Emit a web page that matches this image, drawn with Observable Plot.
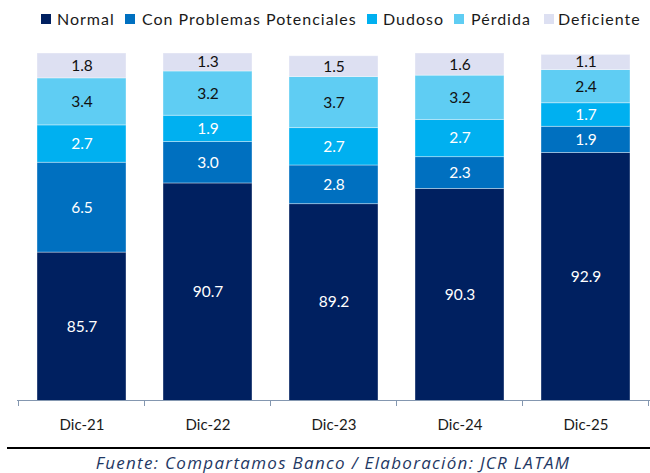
<!DOCTYPE html>
<html>
<head>
<meta charset="utf-8">
<script src="https://cdn.jsdelivr.net/npm/d3@7"></script>
<script src="https://cdn.jsdelivr.net/npm/@observablehq/plot@0.6"></script>
<style>
  body { margin: 0; background: #fff; font-family: Lato, "Liberation Sans", sans-serif; }
  #wrap { position: relative; width: 650px; height: 473px; overflow: hidden; }
  .lg-sq { position: absolute; width: 10px; height: 10px; top: 14px; }
  .lg-tx { position: absolute; top: 9px; font-size: 16px; letter-spacing: 1px; line-height: 20px; color: #1a1a1a; white-space: nowrap; }
  #chart { position: absolute; left: 0; top: 40px; }
  #rule { position: absolute; left: 7px; top: 447px; width: 643px; height: 2px; background: #000; }
  #src { position: absolute; left: 16px; top: 451px; width: 634px; text-align: center; font-family: "Open Sans", sans-serif; font-style: italic; font-size: 17px; letter-spacing: 1.3px; line-height: 24px; color: #1f3864; white-space: nowrap; }
</style>
</head>
<body>
<div id="wrap">
  <div id="legend"></div>
  <div id="chart"></div>
  <div id="rule"></div>
  <div id="src">Fuente: Compartamos Banco / Elaboración: JCR LATAM</div>
</div>
<script>
const categories = ["Dic-21", "Dic-22", "Dic-23", "Dic-24", "Dic-25"];
const series = ["Normal", "Con Problemas Potenciales", "Dudoso", "Pérdida", "Deficiente"];
const normal = [85.7, 90.7, 89.2, 90.3, 92.9];
const conProblemas = [6.5, 3.0, 2.8, 2.3, 1.9];
const dudoso = [2.7, 1.9, 2.7, 2.7, 1.7];
const perdida = [3.4, 3.2, 3.7, 3.2, 2.4];
const deficiente = [1.8, 1.3, 1.5, 1.6, 1.1];
const colors = ["#002060", "#0070C0", "#00B0F0", "#5FCDF3", "#DDE0F2"];
const labelColors = ["#ffffff", "#ffffff", "#ffffff", "#111111", "#111111"];
const yDomain = [75, 100.1];

const values = [normal, conProblemas, dudoso, perdida, deficiente];
const rows = [];
categories.forEach((cat, ci) => {
  let cum = 0;
  series.forEach((s, si) => {
    const v = values[si][ci];
    const y1 = cum, y2 = cum + v;
    cum = y2;
    rows.push({cat, series: s, v, y1, y2, ly: (Math.max(y1, yDomain[0]) + y2) / 2, lc: labelColors[si]});
  });
});

// Legend
const legend = document.getElementById("legend");
const sqX = [41, 125, 367, 454, 544];
const txX = [57, 142, 383, 471, 558];
series.forEach((s, i) => {
  const sq = document.createElement("div");
  sq.className = "lg-sq"; sq.style.left = sqX[i] + "px"; sq.style.background = colors[i];
  const tx = document.createElement("div");
  tx.className = "lg-tx"; tx.style.left = txX[i] + "px"; tx.textContent = s;
  legend.appendChild(sq); legend.appendChild(tx);
});

const chart = Plot.plot({
  width: 650,
  height: 400,
  marginTop: 13,
  marginBottom: 40,
  marginLeft: 17,
  marginRight: 0,
  style: {fontFamily: "Lato, 'Liberation Sans', sans-serif", background: "transparent"},
  x: {domain: categories, paddingInner: 0.29, paddingOuter: 0.145, axis: null},
  y: {domain: yDomain, axis: null},
  color: {domain: series, range: colors},
  marks: [
    Plot.barY(rows, {x: "cat", y1: "y1", y2: "y2", fill: "series", clip: true,
      stroke: "#ffffff", strokeOpacity: 0.45, strokeWidth: 0.8}),
    Plot.text(rows, {x: "cat", y: "ly", text: d => d.v.toFixed(1), fill: "lc", fontSize: 15.5, style: "letter-spacing:0.5px"}),
    Plot.ruleY([yDomain[0]], {stroke: "#8497b0", strokeWidth: 1}),
    Plot.axisX({tickSize: 0, tickPadding: 19, fontSize: 15, fill: "#1a1a1a", label: null})
  ]
});
document.getElementById("chart").appendChild(chart);

// category boundary ticks (Excel-style) using the plot's x scale
const xs = chart.scale("x");
const ys = chart.scale("y");
const step = xs.step;
const start = xs.apply(categories[0]) - (step - xs.bandwidth) / 2;
const y0 = ys.apply(yDomain[0]);
const svg = d3.select(chart);
for (let i = 0; i <= categories.length; i++) {
  const x = Math.min(start + i * step, 649.5);
  svg.append("line").attr("x1", x).attr("x2", x).attr("y1", y0).attr("y2", y0 + 6)
    .attr("stroke", "#8497b0").attr("stroke-width", 1);
}
</script>
</body>
</html>
